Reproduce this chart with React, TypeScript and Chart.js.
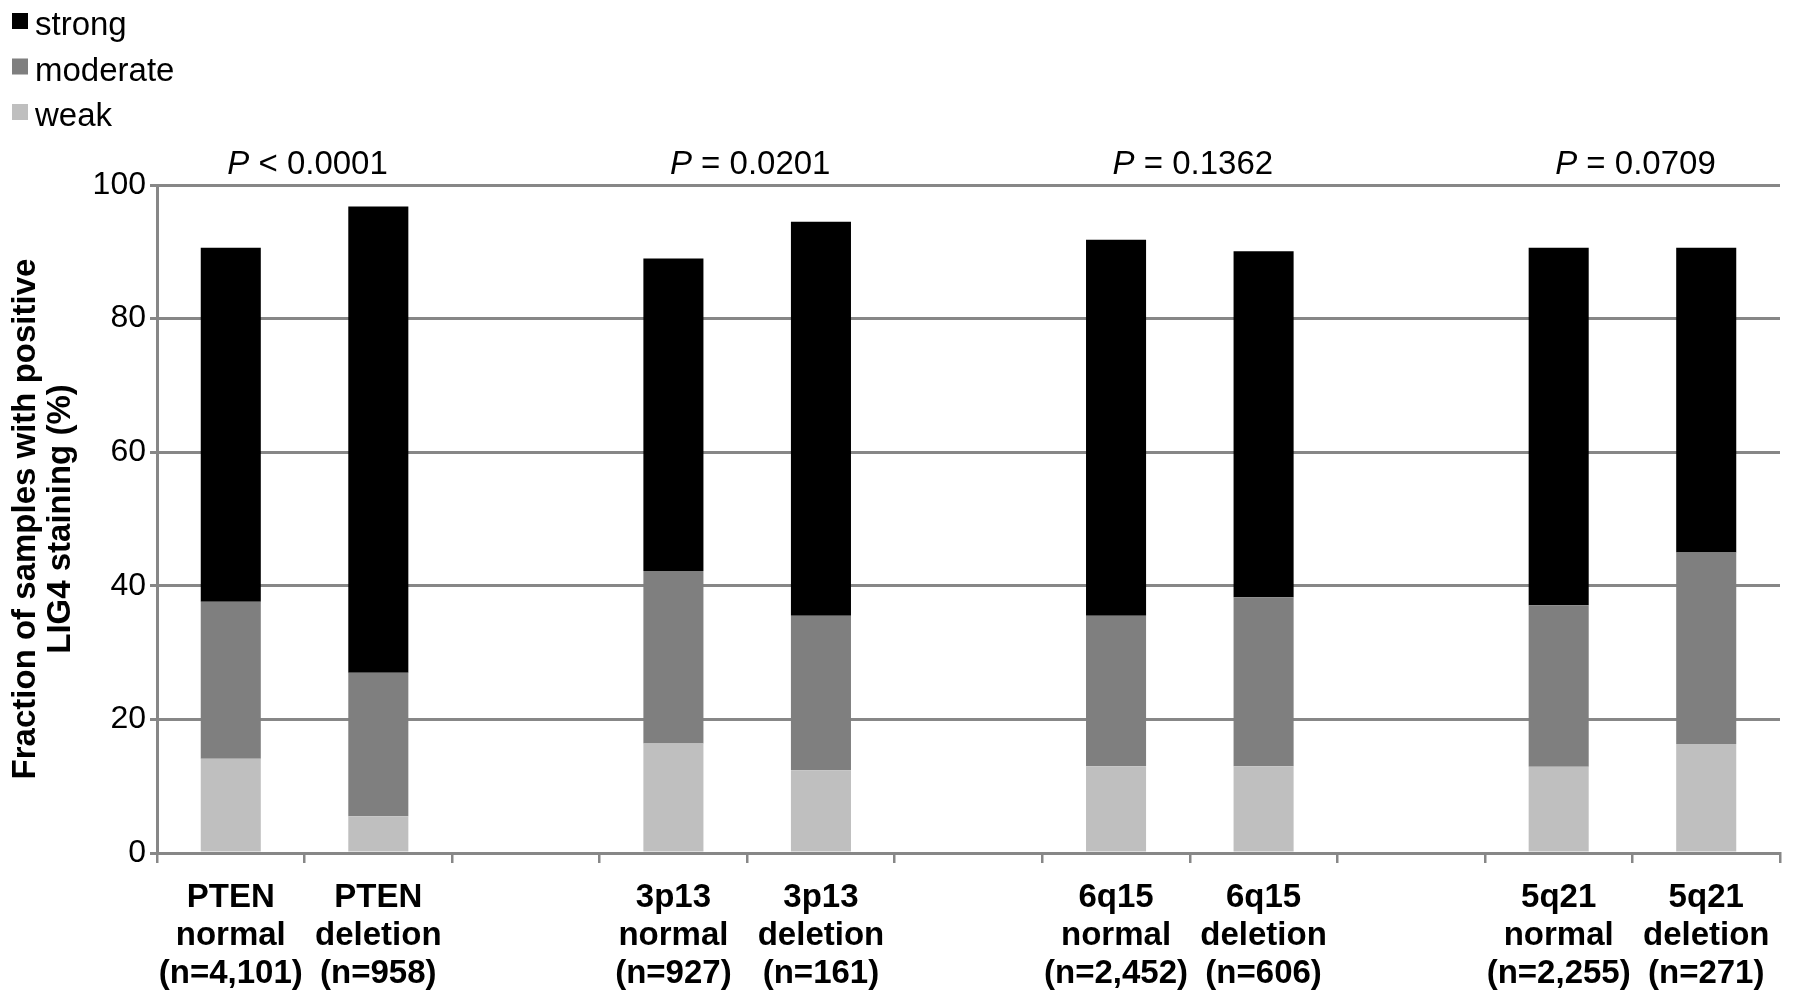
import React, { useEffect, useRef } from 'react';
import { Chart, registerables } from 'chart.js';

Chart.register(...registerables);

const categories: string[][] = [
  ['PTEN', 'normal', '(n=4,101)'],
  ['PTEN', 'deletion', '(n=958)'],
  [''],
  ['3p13', 'normal', '(n=927)'],
  ['3p13', 'deletion', '(n=161)'],
  [''],
  ['6q15', 'normal', '(n=2,452)'],
  ['6q15', 'deletion', '(n=606)'],
  [''],
  ['5q21', 'normal', '(n=2,255)'],
  ['5q21', 'deletion', '(n=271)'],
];

const weak = [14.1, 5.5, null, 16.4, 12.4, null, 13.0, 13.0, null, 12.9, 16.3];
const moderate = [23.5, 21.5, null, 25.8, 23.1, null, 22.5, 25.3, null, 24.2, 28.7];
const strong = [53.0, 69.8, null, 46.8, 59.0, null, 56.3, 51.8, null, 53.5, 45.6];

const seriesNames = ['strong', 'moderate', 'weak'];
const seriesColors = ['#000000', '#7f7f7f', '#bfbfbf'];

const pTexts = ['< 0.0001', '= 0.0201', '= 0.1362', '= 0.0709'];
const pGroupStarts = [0, 3, 6, 9];

const yTitle = ['Fraction of samples with positive', 'LIG4 staining (%)'];

const FONT = "'Liberation Sans', Arial, Helvetica, sans-serif";
const GRID = '#878787';

const overlayPlugin = {
  id: 'overlay',
  afterDraw(chart: any) {
    const ctx = chart.ctx;
    const x = chart.scales.x;
    ctx.save();
    // legend
    ctx.font = `33px ${FONT}`;
    ctx.textAlign = 'left';
    ctx.textBaseline = 'alphabetic';
    seriesNames.forEach((name, i) => {
      const top = 13 + i * 45.5;
      ctx.fillStyle = seriesColors[i];
      ctx.fillRect(12, top, 16, 16);
      ctx.fillStyle = '#000';
      ctx.fillText(name, 35, 35 + i * 45.5);
    });
    // P values
    pTexts.forEach((t, i) => {
      const s = pGroupStarts[i];
      const cx = (x.getPixelForValue(s) + x.getPixelForValue(s + 1)) / 2;
      ctx.font = `italic 33px ${FONT}`;
      const wP = ctx.measureText('P').width;
      ctx.font = `33px ${FONT}`;
      const rest = ' ' + t;
      const wR = ctx.measureText(rest).width;
      const start = cx - (wP + wR) / 2 + 3;
      ctx.fillStyle = '#000';
      ctx.textAlign = 'left';
      ctx.font = `italic 33px ${FONT}`;
      ctx.fillText('P', start, 174);
      ctx.font = `33px ${FONT}`;
      ctx.fillText(rest, start + wP, 174);
    });
    ctx.restore();
  },
};

export default function App() {
  const ref = useRef<HTMLCanvasElement | null>(null);
  useEffect(() => {
    if (!ref.current) return;
    const chart = new Chart(ref.current, {
      type: 'bar',
      data: {
        labels: categories as any,
        datasets: [
          { label: 'weak', data: weak as any, backgroundColor: seriesColors[2], borderWidth: 0 },
          { label: 'moderate', data: moderate as any, backgroundColor: seriesColors[1], borderWidth: 0 },
          { label: 'strong', data: strong as any, backgroundColor: seriesColors[0], borderWidth: 0 },
        ],
      },
      options: {
        responsive: false,
        animation: false,
        devicePixelRatio: 1,
        layout: { padding: { top: 185, right: 15, left: 0, bottom: 0 } },
        plugins: { legend: { display: false }, tooltip: { enabled: false } },
        datasets: { bar: { barPercentage: 0.407, categoryPercentage: 1 } },
        scales: {
          x: {
            stacked: true,
            offset: true,
            grid: {
              display: true,
              offset: true,
              drawOnChartArea: false,
              drawTicks: true,
              tickLength: 10,
              color: GRID,
              lineWidth: 2.5,
            },
            border: { display: true, color: GRID, width: 3 },
            ticks: {
              autoSkip: false,
              maxRotation: 0,
              minRotation: 0,
              padding: 16,
              color: '#000',
              font: { family: FONT, size: 33, weight: 'bold', lineHeight: 1.15 },
            },
            afterFit: (s: any) => { s.height = 151; },
          },
          y: {
            stacked: true,
            min: 0,
            max: 100,
            ticks: {
              stepSize: 20,
              padding: 4,
              color: '#000',
              font: { family: FONT, size: 32 },
            },
            grid: { color: GRID, lineWidth: 3, tickLength: 7, drawTicks: true },
            border: { display: true, color: GRID, width: 3 },
            title: {
              display: true,
              text: yTitle,
              color: '#000',
              font: { family: FONT, size: 33, weight: 'bold', lineHeight: 1.06 },
              padding: { top: 8, bottom: 0 },
            },
            afterFit: (s: any) => { s.width = 157; },
          },
        },
      } as any,
      plugins: [overlayPlugin],
    });
    return () => chart.destroy();
  }, []);
  return (
    <canvas
      ref={ref}
      width={1795}
      height={1004}
      style={{ position: 'fixed', left: 0, top: 0, width: 1795, height: 1004, display: 'block', background: '#fff' }}
    />
  );
}
